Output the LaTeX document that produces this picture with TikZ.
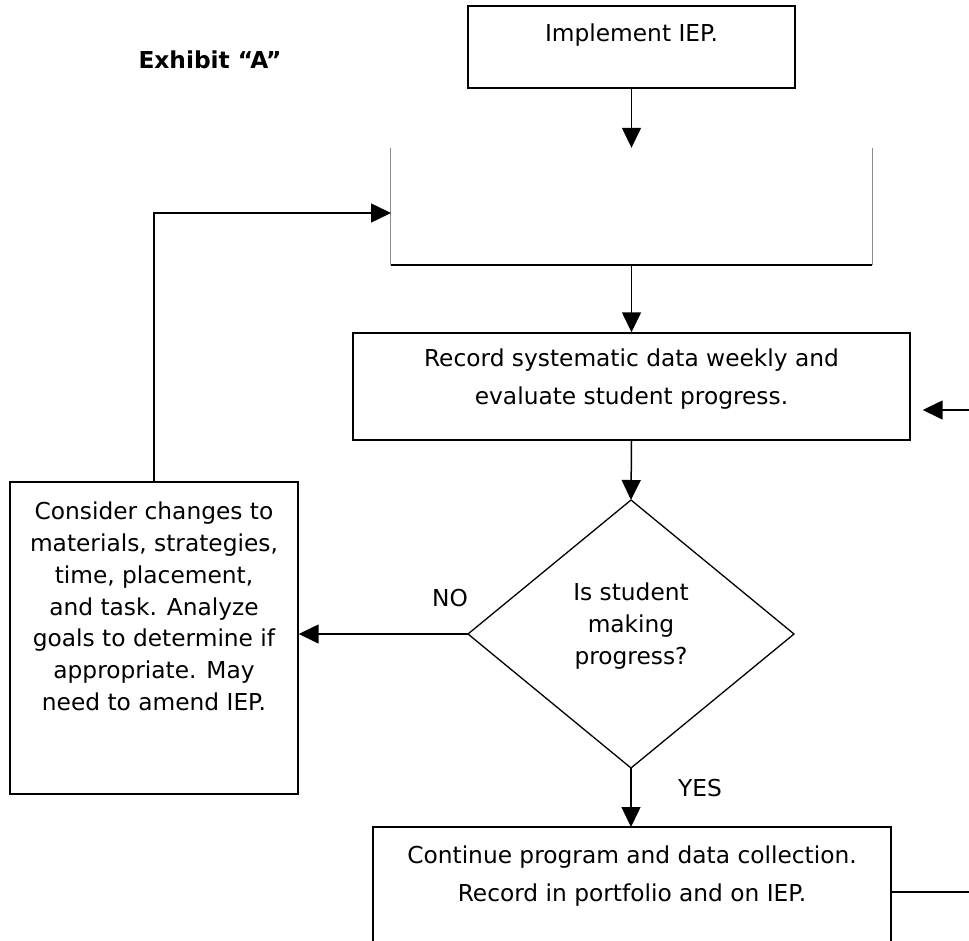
\documentclass[tikz,border=0pt]{standalone}
\usepackage{fontspec}
\setmainfont{DejaVu Sans}
\usetikzlibrary{arrows.meta}
\begin{document}
\begin{tikzpicture}[x=1pt,y=-1pt,
  box/.style={draw=black,line width=1.4pt,inner sep=0pt},
  txt/.style={font=\fontsize{23.3}{31.7}\selectfont,align=center,inner sep=0pt,anchor=north},
  wide/.style={font=\fontsize{23.3}{38}\selectfont},
  lbl/.style={font=\fontsize{23.3}{31.7}\selectfont,inner sep=0pt},
  arr/.style={line width=1.5pt,-{Triangle[length=20pt,width=19pt]}},
  ln/.style={line width=1.4pt},
  side/.style={line width=0.8pt,black!45}]
\useasboundingbox (0,0) rectangle (969,941);
\clip (0,0) rectangle (969,941);

\node[lbl,font=\fontsize{23.3}{31.7}\selectfont\bfseries] (exh) at (210,60) {Exhibit “A”};

% Implement
\node[box,minimum width=327pt,minimum height=82pt] (impl) at (631.5,47) {};
\node[txt] (implT) at (631.5,24) {Implement IEP.};

% open box
\node[inner sep=0pt,minimum width=481pt,minimum height=117pt] (open) at (631.5,206.5) {};
\draw[side] (open.north west) -- (open.south west);
\draw[side] (open.north east) -- (open.south east);
\draw[ln] (open.south west) -- (open.south east);

% record
\node[box,minimum width=557pt,minimum height=107pt] (rec) at (631.5,386.5) {};
\node[txt,wide] (recT) at (631.5,349) {Record systematic data weekly and\\evaluate student progress.};

% diamond
\coordinate (dN) at (631,500);
\coordinate (dE) at (794,634);
\coordinate (dS) at (631,768);
\coordinate (dW) at (468,634);
\draw[line width=1.3pt,line join=miter] (dN) -- (dE) -- (dS) -- (dW) -- cycle;
\node[txt] (diaT) at (631,583) {Is student\\making\\progress?};

% consider
\node[box,minimum width=288pt,minimum height=312pt] (cons) at (154,638) {};
\node[txt] (consT) at (154,502) {Consider changes to\\materials, strategies,\\time, placement,\\and task. Analyze\\goals to determine if\\appropriate. May\\need to amend IEP.};

% continue
\coordinate (cNW) at (373,827);
\coordinate (cNE) at (891,827);
\coordinate (cSW) at (373,945);
\coordinate (cSE) at (891,945);
\draw[ln] (cSW) -- (cNW) -- (cNE) -- (cSE);
\node[txt,wide] (contT) at (632,846) {Continue program and data collection.\\Record in portfolio and on IEP.};
\coordinate (cR) at (891,892);
\coordinate (cOut) at (969,892);
\draw[ln] (cR) -- (cOut);

% connectors
\draw[arr] (impl.south) -- (open.north);
\draw[arr] (open.south) -- (rec.north);
\draw[arr] (rec.south) -- (dN);
\draw[arr] (dW) -- (cons.east |- dW);
\draw[arr] (dS) -- (dS |- cNW);
\coordinate (loopT) at (391,213);
\draw[arr] (cons.north) |- (loopT);
\coordinate (rin) at (969,410);
\draw[arr,shorten >=12pt] (rin) -- (rin -| rec.east);

\node[lbl] (no) at (450,598) {NO};
\node[lbl] (yes) at (700,788) {YES};
\end{tikzpicture}
\end{document}
